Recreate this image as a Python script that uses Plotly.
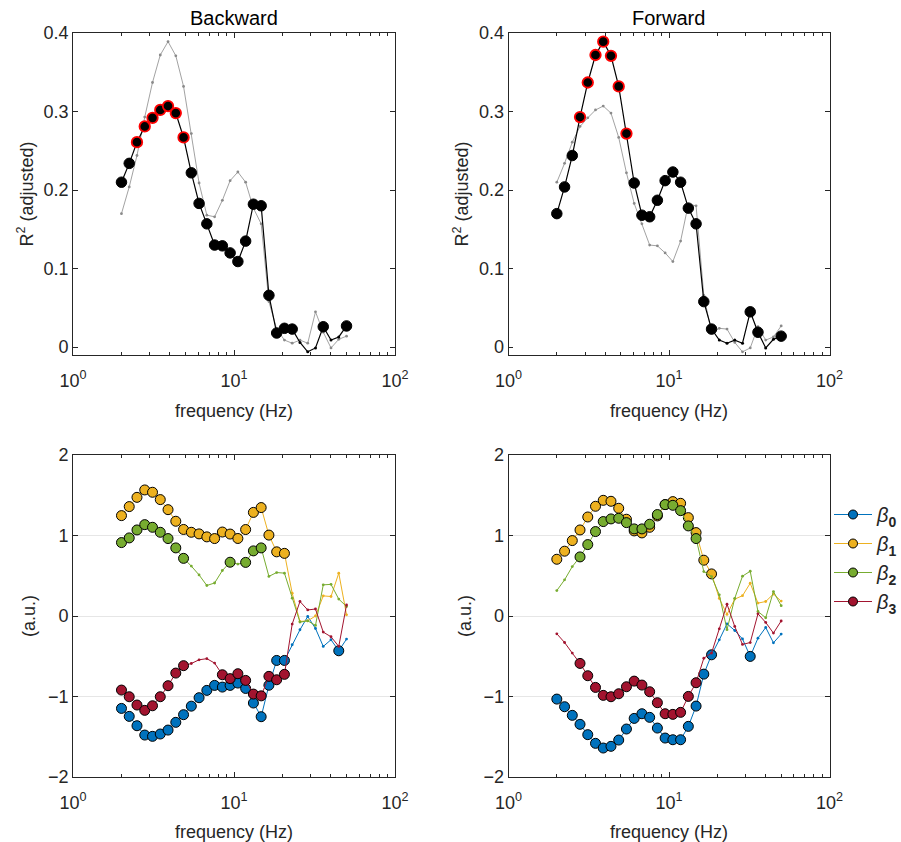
import plotly.graph_objects as go

# ---------------- data ----------------
freqs = [2.000, 2.235, 2.497, 2.790, 3.118, 3.484, 3.893, 4.350, 4.860, 5.431,
         6.068, 6.781, 7.577, 8.466, 9.460, 10.570, 11.811, 13.198, 14.747, 16.478,
         18.412, 20.574, 22.989, 25.688, 28.703, 32.072, 35.837, 40.044, 44.745, 50.000]

r2_backward = [0.210, 0.234, 0.261, 0.281, 0.292, 0.302, 0.307, 0.298, 0.267, 0.222,
               0.183, 0.157, 0.130, 0.129, 0.120, 0.109, 0.135, 0.182, 0.180, 0.066,
               0.018, 0.024, 0.023, 0.006, -0.006, -0.001, 0.026, 0.009, 0.013, 0.027]
r2_forward = [0.170, 0.204, 0.244, 0.293, 0.337, 0.372, 0.389, 0.371, 0.332, 0.272,
              0.209, 0.168, 0.166, 0.187, 0.212, 0.223, 0.210, 0.177, 0.157, 0.058,
              0.023, 0.009, 0.005, 0.009, 0.005, 0.045, 0.019, -0.001, 0.010, 0.014]

# indices of significant points (large markers) and peak points (red ring)
sig_r2_backward = [0, 1, 2, 3, 4, 5, 6, 7, 8, 9, 10, 11, 12, 13, 14, 15, 16, 17, 18, 19, 20, 21, 22, 26, 29]
sig_r2_forward = [0, 1, 2, 3, 4, 5, 6, 7, 8, 9, 10, 11, 12, 13, 14, 15, 16, 17, 18, 19, 20, 25, 26, 29]
peak_r2_backward = [2, 3, 4, 5, 6, 7, 8]
peak_r2_forward = [3, 4, 5, 6, 7, 8, 9]

# beta weights, backward
beta0_backward = [-1.148, -1.247, -1.363, -1.479, -1.495, -1.466, -1.417, -1.321, -1.226, -1.120,
                  -1.015, -0.924, -0.862, -0.883, -0.862, -0.833, -0.900, -1.081, -1.251, -0.860,
                  -0.552, -0.552, -0.357, -0.171, -0.006, -0.155, -0.378, -0.295, -0.432, -0.287]
beta1_backward = [1.247, 1.359, 1.474, 1.566, 1.537, 1.446, 1.321, 1.177, 1.075, 1.040,
                  1.020, 0.983, 0.962, 1.043, 1.018, 0.963, 1.074, 1.287, 1.347, 1.005,
                  0.797, 0.778, 0.283, -0.068, -0.060, 0.000, 0.250, 0.242, 0.532, 0.015]
beta2_backward = [0.912, 0.970, 1.069, 1.135, 1.102, 1.040, 0.962, 0.846, 0.716, 0.620,
                  0.510, 0.379, 0.410, 0.565, 0.668, 0.645, 0.666, 0.809, 0.846, 0.492,
                  0.540, 0.532, 0.222, -0.076, -0.060, -0.117, 0.387, 0.393, 0.210, 0.118]
beta3_backward = [-0.920, -1.003, -1.106, -1.172, -1.115, -1.003, -0.866, -0.709, -0.617, -0.590,
                  -0.544, -0.530, -0.585, -0.730, -0.778, -0.717, -0.800, -0.970, -0.992, -0.750,
                  -0.792, -0.725, -0.100, 0.180, 0.075, 0.087, -0.200, -0.258, -0.378, 0.137]

# beta weights, forward
beta0_forward = [-1.032, -1.127, -1.234, -1.346, -1.474, -1.582, -1.640, -1.619, -1.541, -1.404,
                 -1.272, -1.214, -1.259, -1.392, -1.516, -1.537, -1.537, -1.371, -1.119, -0.722,
                 -0.482, -0.296, -0.097, -0.180, -0.285, -0.502, -0.275, -0.143, -0.333, -0.225]
beta1_forward = [0.705, 0.805, 0.937, 1.069, 1.230, 1.363, 1.437, 1.425, 1.338, 1.202,
                 1.057, 1.032, 1.102, 1.243, 1.384, 1.421, 1.400, 1.222, 1.036, 0.693,
                 0.523, 0.218, 0.020, 0.210, 0.252, 0.407, 0.160, 0.180, 0.273, 0.185]
beta2_forward = [0.316, 0.449, 0.614, 0.734, 0.887, 1.049, 1.173, 1.206, 1.214, 1.160,
                 1.082, 1.082, 1.140, 1.260, 1.384, 1.375, 1.309, 1.119, 0.962, 0.552,
                 0.490, 0.263, -0.170, 0.220, 0.495, 0.556, 0.056, -0.022, 0.304, 0.128]
beta3_forward = [-0.221, -0.329, -0.461, -0.589, -0.742, -0.887, -0.986, -1.003, -0.966, -0.879,
                 -0.809, -0.858, -0.941, -1.077, -1.214, -1.222, -1.197, -0.999, -0.829, -0.525,
                 -0.460, -0.159, 0.147, -0.130, -0.353, -0.330, 0.027, -0.080, -0.212, -0.062]

sig_beta_backward = [
    list(range(0, 22)) + [28],                 # beta0
    list(range(0, 22)),                        # beta1
    list(range(0, 9)) + [14, 16, 17, 18],      # beta2
    list(range(0, 9)) + list(range(13, 22)),   # beta3
]
sig_beta_forward = [
    list(range(0, 21)) + [25],
    list(range(0, 21)),
    list(range(3, 19)),
    list(range(3, 19)),
]

beta_names = ["<i>β</i><sub><b>0</b></sub>", "<i>β</i><sub><b>1</b></sub>",
              "<i>β</i><sub><b>2</b></sub>", "<i>β</i><sub><b>3</b></sub>"]
beta_colors = ["#0072BD", "#EDB120", "#77AC30", "#A2142F"]

titles = ["Backward", "Forward"]

# ---------------- figure ----------------
FONT = "Liberation Sans, Arial, Helvetica, sans-serif"
AXC = "#262626"
W, H = 901, 842

fig = go.Figure()


def series(x, y, sig, color, edge, xa, ya, big=9, small=3.0, width=1.0, ring=None):
    sizes, lws, lcs = [], [], []
    for i in range(len(y)):
        if i in sig:
            sizes.append(big)
            if ring is not None and i in ring:
                lws.append(1.8)
                lcs.append("#FF0000")
            else:
                lws.append(1.0)
                lcs.append(edge)
        else:
            sizes.append(small)
            lws.append(0)
            lcs.append(color)
    fig.add_trace(go.Scatter(
        x=x, y=y, mode="lines+markers", xaxis=xa, yaxis=ya, showlegend=False,
        line=dict(color=color, width=width),
        marker=dict(size=sizes, color=color, opacity=1, line=dict(width=lws, color=lcs)),
        hoverinfo="skip"))


# top panels: other condition in grey, own in black
r2_sets = [(r2_backward, sig_r2_backward, peak_r2_backward),
           (r2_forward, sig_r2_forward, peak_r2_forward)]
for p in range(2):
    xa, ya = ("x", "y") if p == 0 else ("x2", "y2")
    other = r2_sets[1 - p][0]
    series(freqs, other, [], "#8a8a8a", "#8a8a8a", xa, ya, small=2.8, width=0.8)
    own, sig, peak = r2_sets[p]
    series(freqs, own, sig, "#000000", "#000000", xa, ya, big=10.5, small=3, width=1.2, ring=peak)

# bottom panels
beta_sets = [
    ([beta0_backward, beta1_backward, beta2_backward, beta3_backward], sig_beta_backward),
    ([beta0_forward, beta1_forward, beta2_forward, beta3_forward], sig_beta_forward),
]
for p in range(2):
    xa, ya = ("x3", "y3") if p == 0 else ("x4", "y4")
    vals, sigs = beta_sets[p]
    for k in range(4):
        series(freqs, vals[k], sigs[k], beta_colors[k], "#000000", xa, ya, big=10, small=2.8, width=1.0)

# legend-only traces
for k in range(4):
    fig.add_trace(go.Scatter(
        x=[None], y=[None], mode="lines+markers", xaxis="x4", yaxis="y4",
        name=beta_names[k], line=dict(color=beta_colors[k], width=1.2),
        marker=dict(size=9, color=beta_colors[k], opacity=1, line=dict(width=1, color="#000000"))))

# domains (pixels -> paper)
xdom = [[73 / W, 395 / W], [508.5 / W, 829.5 / W]]
ydom_top = [1 - 355 / H, 1 - 33 / H]
ydom_bot = [1 - 777 / H, 1 - 455 / H]

minor_vals = [2, 3, 4, 5, 6, 7, 8, 9, 20, 30, 40, 50, 60, 70, 80, 90]


def xaxis_cfg(dom, anchor):
    return dict(
        type="log", range=[0, 2], domain=dom, anchor=anchor, automargin=False,
        tickmode="array", tickvals=[1, 10, 100],
        ticktext=["10<sup>0</sup>", "10<sup>1</sup>", "10<sup>2</sup>"],
        ticks="inside", ticklen=5, tickcolor=AXC, tickwidth=0.8,
        ticklabelstandoff=9,
        minor=dict(tickmode="array", tickvals=minor_vals, ticks="inside", ticklen=3,
                   tickcolor=AXC, tickwidth=0.8, showgrid=False),
        showline=True, linecolor=AXC, linewidth=0.8, mirror="ticks",
        showgrid=False, zeroline=False,
        tickfont=dict(family=FONT, size=18, color=AXC),
        title=dict(text="frequency (Hz)", font=dict(family=FONT, size=18, color=AXC), standoff=14),
    )


def yaxis_cfg(dom, anchor, rng, tickvals, ticktext, title, grid, standoff):
    return dict(
        range=rng, domain=dom, anchor=anchor, automargin=False,
        tickmode="array", tickvals=tickvals, ticktext=ticktext,
        ticks="inside", ticklen=5, tickcolor=AXC, tickwidth=0.8,
        showline=True, linecolor=AXC, linewidth=0.8, mirror="ticks",
        showgrid=grid, gridcolor="#e6e6e6", gridwidth=1, zeroline=False,
        tickfont=dict(family=FONT, size=18, color=AXC),
        title=dict(text=title, font=dict(family=FONT, size=18, color=AXC), standoff=standoff),
    )


r2_ticks = [0, 0.1, 0.2, 0.3, 0.4]
r2_text = ["0", "0.1", "0.2", "0.3", "0.4"]
b_ticks = [-2, -1, 0, 1, 2]
b_text = ["−2", "−1", "0", "1", "2"]
r2_title = "R<sup>2</sup> (adjusted)"

fig.update_layout(
    width=W, height=H,
    margin=dict(l=0, r=0, t=0, b=0, autoexpand=False),
    paper_bgcolor="white", plot_bgcolor="white",
    font=dict(family=FONT, color=AXC),
    xaxis=xaxis_cfg(xdom[0], "y"),
    xaxis2=xaxis_cfg(xdom[1], "y2"),
    xaxis3=xaxis_cfg(xdom[0], "y3"),
    xaxis4=xaxis_cfg(xdom[1], "y4"),
    yaxis=yaxis_cfg(ydom_top, "x", [-0.01, 0.4], r2_ticks, r2_text, r2_title, False, 5),
    yaxis2=yaxis_cfg(ydom_top, "x2", [-0.01, 0.4], r2_ticks, r2_text, r2_title, False, 5),
    yaxis3=yaxis_cfg(ydom_bot, "x3", [-2, 2], b_ticks, b_text, "(a.u.)", True, 7),
    yaxis4=yaxis_cfg(ydom_bot, "x4", [-2, 2], b_ticks, b_text, "(a.u.)", True, 7),
    legend=dict(x=829 / W, y=1 - 495 / H, xanchor="left", yanchor="top",
                font=dict(family=FONT, size=20, color=AXC), bgcolor="rgba(0,0,0,0)",
                itemwidth=38, tracegroupgap=0),
    showlegend=True,
)

for p in range(2):
    fig.add_annotation(
        text=titles[p], x=(xdom[p][0] + xdom[p][1]) / 2, y=1 - 18 / H,
        xref="paper", yref="paper", xanchor="center", yanchor="middle", showarrow=False,
        font=dict(family=FONT, size=20, color="#000000"))

fig.write_html("out.html")
